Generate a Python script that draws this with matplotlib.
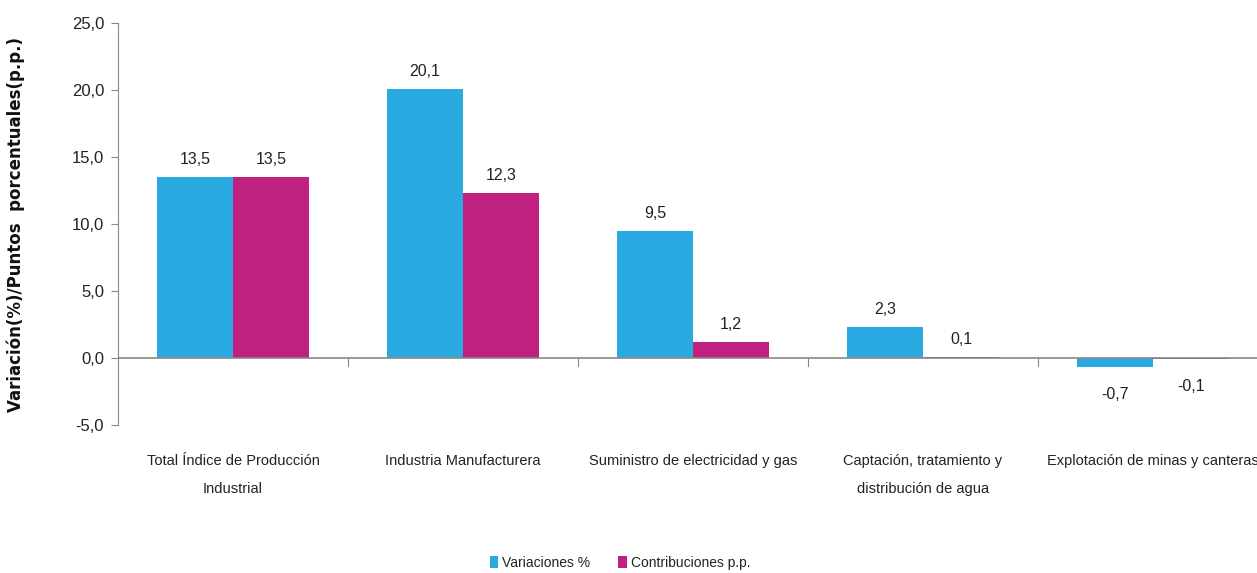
import matplotlib
matplotlib.use("Agg")
import matplotlib.pyplot as plt
import numpy as np

categories = [
    "Total Índice de Producción\nIndustrial",
    "Industria Manufacturera",
    "Suministro de electricidad y gas",
    "Captación, tratamiento y\ndistribución de agua",
    "Explotación de minas y canteras",
]
variaciones = [13.5, 20.1, 9.5, 2.3, -0.7]
contribuciones = [13.5, 12.3, 1.2, 0.1, -0.1]
series_names = ["Variaciones %", "Contribuciones p.p."]
y_ticks = [-5, 0, 5, 10, 15, 20, 25]

BLUE = "#29ABE2"
MAGENTA = "#C0207F"
TEXT = "#222222"

plt.rcParams["font.family"] = ["Liberation Sans", "DejaVu Sans"]


def fmt(v):
    return f"{v:.1f}".replace(".", ",")


fig = plt.figure(figsize=(12.57, 5.73), dpi=100)
# axes from x=118 to x=1268 px, y=23 to y=425 px
ax = fig.add_axes([118 / 1257, 1 - 425 / 573, 1150 / 1257, 402 / 573])

x = np.arange(len(categories))
w = 0.33
b1 = ax.bar(x - w / 2, variaciones, w, color=BLUE, label=series_names[0])
b2 = ax.bar(x + w / 2, contribuciones, w, color=MAGENTA, label=series_names[1])

for bars, vals in ((b1, variaciones), (b2, contribuciones)):
    for rect, v in zip(bars, vals):
        cx = rect.get_x() + rect.get_width() / 2
        if v >= 0:
            ax.annotate(fmt(v), (cx, v), xytext=(0, 7), textcoords="offset points",
                        ha="center", va="bottom", fontsize=11.5, color=TEXT)
        else:
            ax.annotate(fmt(v), (cx, v), xytext=(0, -14), textcoords="offset points",
                        ha="center", va="top", fontsize=11.5, color=TEXT)

ax.set_xlim(-0.5, len(categories) - 0.5)
ax.set_ylim(-5, 25)
ax.set_yticks(y_ticks)
ax.set_yticklabels([fmt(t) for t in y_ticks], fontsize=12, color=TEXT)

for s in ("top", "right", "bottom"):
    ax.spines[s].set_visible(False)
ax.spines["left"].set_color("#888888")
ax.axhline(0, color="#888888", lw=1.2, zorder=3)
ax.tick_params(axis="y", length=5, color="#888888", pad=5)

# category boundary ticks on the zero line
for b in np.arange(0.5, len(categories) - 0.5, 1.0):
    ax.plot([b, b], [0, -0.6], color="#888888", lw=0.8, clip_on=False)

ax.set_xticks(x)
ax.set_xticklabels(categories, fontsize=10.5, linespacing=2.3, color=TEXT)
ax.tick_params(axis="x", length=0, pad=21)

ax.set_ylabel("Variación(%)/Puntos  porcentuales(p.p.)", fontsize=12, fontweight="bold",
              family="DejaVu Sans", color="#111111")
ax.yaxis.set_label_coords(-93 / 1150, 0.5)

fig.legend(handles=[b1, b2], labels=series_names, loc="center",
           bbox_to_anchor=(620 / 1257, 1 - 563 / 573), ncol=2, frameon=False,
           fontsize=10, handlelength=0.6, handleheight=1.0, handletextpad=0.3,
           columnspacing=2.0, labelcolor=TEXT)

fig.savefig("out.png", dpi=100)
